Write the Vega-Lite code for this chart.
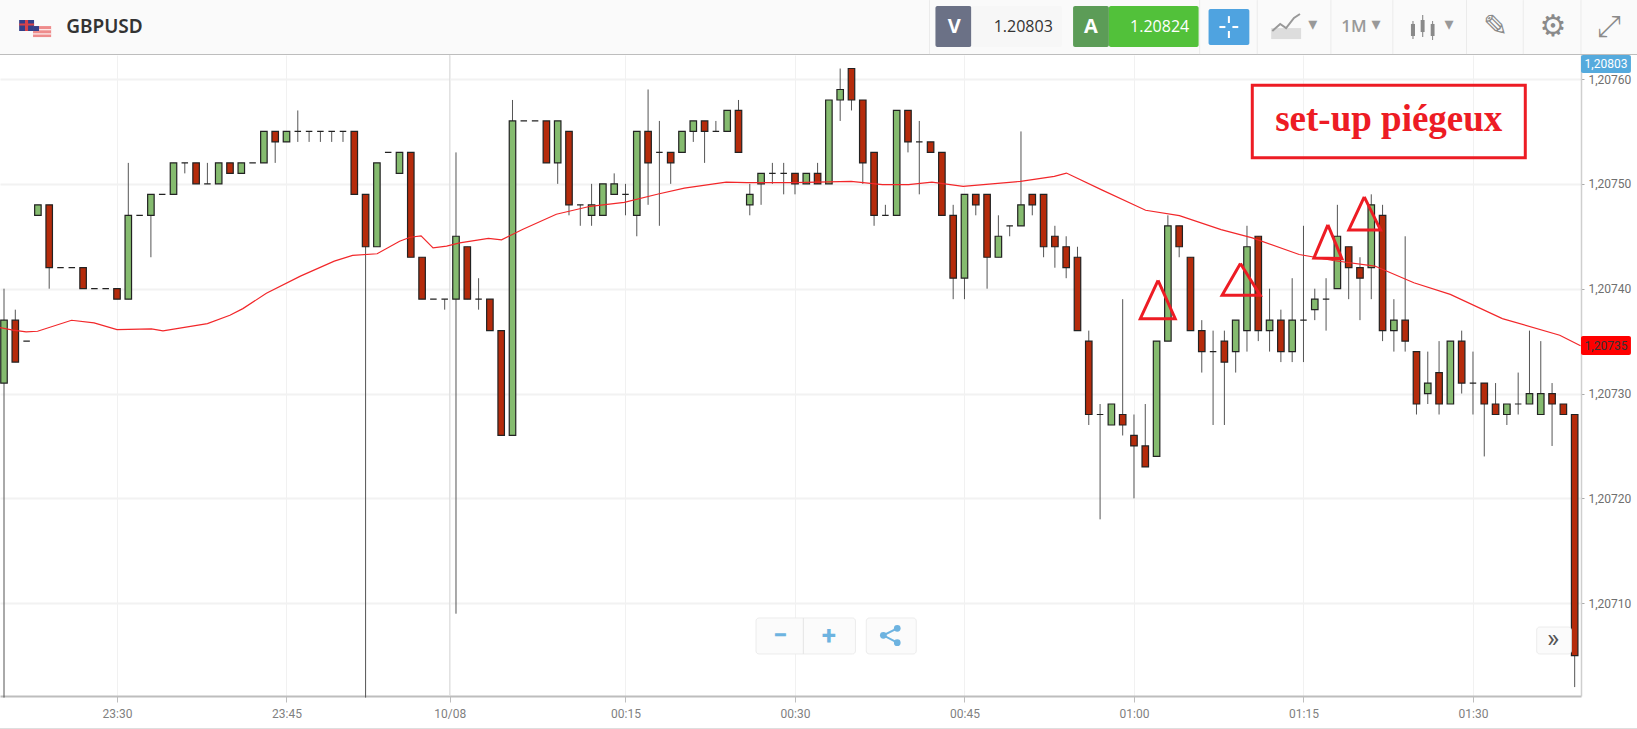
{"$schema":"https://vega.github.io/schema/vega-lite/v6.json","width":1581,"height":641,"autosize":{"type":"none"},"padding":{"left":0,"top":55,"right":56,"bottom":33},"background":"#ffffff","config":{"view":{"stroke":null}},
"datasets":{"candles":[
{"m":-10,"kind":"up","open":1.20731,"close":1.20737,"high":1.2074,"low":1.20701},
{"m":-9,"kind":"down","open":1.20737,"close":1.20733,"high":1.20738,"low":1.20733},
{"m":-8,"kind":"flat","open":1.20735,"close":1.20735,"high":1.20735,"low":1.20735},
{"m":-7,"kind":"up","open":1.20747,"close":1.20748,"high":1.20748,"low":1.20747},
{"m":-6,"kind":"down","open":1.20748,"close":1.20742,"high":1.20748,"low":1.2074},
{"m":-5,"kind":"flat","open":1.20742,"close":1.20742,"high":1.20742,"low":1.20742},
{"m":-4,"kind":"flat","open":1.20742,"close":1.20742,"high":1.20742,"low":1.20742},
{"m":-3,"kind":"down","open":1.20742,"close":1.2074,"high":1.20742,"low":1.2074},
{"m":-2,"kind":"flat","open":1.2074,"close":1.2074,"high":1.2074,"low":1.2074},
{"m":-1,"kind":"flat","open":1.2074,"close":1.2074,"high":1.2074,"low":1.2074},
{"m":0,"kind":"down","open":1.2074,"close":1.20739,"high":1.2074,"low":1.20739},
{"m":1,"kind":"up","open":1.20739,"close":1.20747,"high":1.20752,"low":1.20739},
{"m":2,"kind":"flat","open":1.20747,"close":1.20747,"high":1.20747,"low":1.20747},
{"m":3,"kind":"up","open":1.20747,"close":1.20749,"high":1.20749,"low":1.20743},
{"m":4,"kind":"flat","open":1.20749,"close":1.20749,"high":1.20749,"low":1.20749},
{"m":5,"kind":"up","open":1.20749,"close":1.20752,"high":1.20752,"low":1.20749},
{"m":6,"kind":"flat","open":1.20752,"close":1.20752,"high":1.20752,"low":1.20751},
{"m":7,"kind":"down","open":1.20752,"close":1.2075,"high":1.20752,"low":1.2075},
{"m":8,"kind":"flat","open":1.2075,"close":1.2075,"high":1.20752,"low":1.2075},
{"m":9,"kind":"up","open":1.2075,"close":1.20752,"high":1.20752,"low":1.2075},
{"m":10,"kind":"down","open":1.20752,"close":1.20751,"high":1.20752,"low":1.20751},
{"m":11,"kind":"up","open":1.20751,"close":1.20752,"high":1.20752,"low":1.20751},
{"m":12,"kind":"flat","open":1.20752,"close":1.20752,"high":1.20752,"low":1.20752},
{"m":13,"kind":"up","open":1.20752,"close":1.20755,"high":1.20755,"low":1.20752},
{"m":14,"kind":"down","open":1.20755,"close":1.20754,"high":1.20755,"low":1.20752},
{"m":15,"kind":"up","open":1.20754,"close":1.20755,"high":1.20755,"low":1.20754},
{"m":16,"kind":"flat","open":1.20755,"close":1.20755,"high":1.20757,"low":1.20754},
{"m":17,"kind":"flat","open":1.20755,"close":1.20755,"high":1.20755,"low":1.20754},
{"m":18,"kind":"flat","open":1.20755,"close":1.20755,"high":1.20755,"low":1.20754},
{"m":19,"kind":"flat","open":1.20755,"close":1.20755,"high":1.20755,"low":1.20754},
{"m":20,"kind":"flat","open":1.20755,"close":1.20755,"high":1.20755,"low":1.20754},
{"m":21,"kind":"down","open":1.20755,"close":1.20749,"high":1.20755,"low":1.20749},
{"m":22,"kind":"down","open":1.20749,"close":1.20744,"high":1.20749,"low":1.20701},
{"m":23,"kind":"up","open":1.20744,"close":1.20752,"high":1.20752,"low":1.20744},
{"m":24,"kind":"flat","open":1.20753,"close":1.20753,"high":1.20753,"low":1.20753},
{"m":25,"kind":"up","open":1.20751,"close":1.20753,"high":1.20753,"low":1.20751},
{"m":26,"kind":"down","open":1.20753,"close":1.20743,"high":1.20753,"low":1.20743},
{"m":27,"kind":"down","open":1.20743,"close":1.20739,"high":1.20743,"low":1.20739},
{"m":28,"kind":"flat","open":1.20739,"close":1.20739,"high":1.20739,"low":1.20739},
{"m":29,"kind":"flat","open":1.20739,"close":1.20739,"high":1.20739,"low":1.20738},
{"m":30,"kind":"up","open":1.20739,"close":1.20745,"high":1.20753,"low":1.20709},
{"m":31,"kind":"down","open":1.20744,"close":1.20739,"high":1.20744,"low":1.20739},
{"m":32,"kind":"flat","open":1.20739,"close":1.20739,"high":1.20741,"low":1.20738},
{"m":33,"kind":"down","open":1.20739,"close":1.20736,"high":1.20739,"low":1.20736},
{"m":34,"kind":"down","open":1.20736,"close":1.20726,"high":1.20736,"low":1.20726},
{"m":35,"kind":"up","open":1.20726,"close":1.20756,"high":1.20758,"low":1.20726},
{"m":36,"kind":"flat","open":1.20756,"close":1.20756,"high":1.20756,"low":1.20756},
{"m":37,"kind":"flat","open":1.20756,"close":1.20756,"high":1.20756,"low":1.20756},
{"m":38,"kind":"down","open":1.20756,"close":1.20752,"high":1.20756,"low":1.20752},
{"m":39,"kind":"up","open":1.20752,"close":1.20756,"high":1.20756,"low":1.2075},
{"m":40,"kind":"down","open":1.20755,"close":1.20748,"high":1.20755,"low":1.20747},
{"m":41,"kind":"flat","open":1.20748,"close":1.20748,"high":1.20748,"low":1.20746},
{"m":42,"kind":"up","open":1.20747,"close":1.20748,"high":1.2075,"low":1.20746},
{"m":43,"kind":"up","open":1.20747,"close":1.2075,"high":1.2075,"low":1.20747},
{"m":44,"kind":"up","open":1.20749,"close":1.2075,"high":1.20751,"low":1.20749},
{"m":45,"kind":"flat","open":1.20749,"close":1.20749,"high":1.2075,"low":1.20747},
{"m":46,"kind":"up","open":1.20747,"close":1.20755,"high":1.20755,"low":1.20745},
{"m":47,"kind":"down","open":1.20755,"close":1.20752,"high":1.20759,"low":1.20748},
{"m":48,"kind":"flat","open":1.20753,"close":1.20753,"high":1.20756,"low":1.20746},
{"m":49,"kind":"down","open":1.20753,"close":1.20752,"high":1.20753,"low":1.2075},
{"m":50,"kind":"up","open":1.20753,"close":1.20755,"high":1.20755,"low":1.20753},
{"m":51,"kind":"up","open":1.20755,"close":1.20756,"high":1.20756,"low":1.20754},
{"m":52,"kind":"down","open":1.20756,"close":1.20755,"high":1.20756,"low":1.20752},
{"m":53,"kind":"flat","open":1.20755,"close":1.20755,"high":1.20756,"low":1.20755},
{"m":54,"kind":"up","open":1.20755,"close":1.20757,"high":1.20757,"low":1.20755},
{"m":55,"kind":"down","open":1.20757,"close":1.20753,"high":1.20758,"low":1.20753},
{"m":56,"kind":"up","open":1.20748,"close":1.20749,"high":1.2075,"low":1.20747},
{"m":57,"kind":"up","open":1.2075,"close":1.20751,"high":1.20751,"low":1.20748},
{"m":58,"kind":"flat","open":1.20751,"close":1.20751,"high":1.20752,"low":1.2075},
{"m":59,"kind":"flat","open":1.20751,"close":1.20751,"high":1.20752,"low":1.20749},
{"m":60,"kind":"down","open":1.20751,"close":1.2075,"high":1.20751,"low":1.20749},
{"m":61,"kind":"up","open":1.2075,"close":1.20751,"high":1.20751,"low":1.2075},
{"m":62,"kind":"down","open":1.20751,"close":1.2075,"high":1.20752,"low":1.2075},
{"m":63,"kind":"up","open":1.2075,"close":1.20758,"high":1.20758,"low":1.2075},
{"m":64,"kind":"up","open":1.20758,"close":1.20759,"high":1.20761,"low":1.20756},
{"m":65,"kind":"down","open":1.20761,"close":1.20758,"high":1.20761,"low":1.20757},
{"m":66,"kind":"down","open":1.20758,"close":1.20752,"high":1.20758,"low":1.2075},
{"m":67,"kind":"down","open":1.20753,"close":1.20747,"high":1.20753,"low":1.20746},
{"m":68,"kind":"flat","open":1.20747,"close":1.20747,"high":1.20748,"low":1.20747},
{"m":69,"kind":"up","open":1.20747,"close":1.20757,"high":1.20757,"low":1.20747},
{"m":70,"kind":"down","open":1.20757,"close":1.20754,"high":1.20757,"low":1.20753},
{"m":71,"kind":"flat","open":1.20754,"close":1.20754,"high":1.20756,"low":1.20749},
{"m":72,"kind":"down","open":1.20754,"close":1.20753,"high":1.20754,"low":1.20753},
{"m":73,"kind":"down","open":1.20753,"close":1.20747,"high":1.20753,"low":1.20747},
{"m":74,"kind":"down","open":1.20747,"close":1.20741,"high":1.20748,"low":1.20739},
{"m":75,"kind":"up","open":1.20741,"close":1.20749,"high":1.20749,"low":1.20739},
{"m":76,"kind":"down","open":1.20749,"close":1.20748,"high":1.20749,"low":1.20747},
{"m":77,"kind":"down","open":1.20749,"close":1.20743,"high":1.20749,"low":1.2074},
{"m":78,"kind":"up","open":1.20743,"close":1.20745,"high":1.20747,"low":1.20743},
{"m":79,"kind":"flat","open":1.20746,"close":1.20746,"high":1.20746,"low":1.20745},
{"m":80,"kind":"up","open":1.20746,"close":1.20748,"high":1.20755,"low":1.20746},
{"m":81,"kind":"down","open":1.20749,"close":1.20748,"high":1.20749,"low":1.20747},
{"m":82,"kind":"down","open":1.20749,"close":1.20744,"high":1.20749,"low":1.20743},
{"m":83,"kind":"down","open":1.20745,"close":1.20744,"high":1.20746,"low":1.20742},
{"m":84,"kind":"down","open":1.20744,"close":1.20742,"high":1.20745,"low":1.20741},
{"m":85,"kind":"down","open":1.20743,"close":1.20736,"high":1.20744,"low":1.20736},
{"m":86,"kind":"down","open":1.20735,"close":1.20728,"high":1.20736,"low":1.20727},
{"m":87,"kind":"flat","open":1.20728,"close":1.20728,"high":1.20729,"low":1.20718},
{"m":88,"kind":"up","open":1.20727,"close":1.20729,"high":1.20729,"low":1.20727},
{"m":89,"kind":"down","open":1.20728,"close":1.20727,"high":1.20739,"low":1.20726},
{"m":90,"kind":"down","open":1.20726,"close":1.20725,"high":1.20728,"low":1.2072},
{"m":91,"kind":"down","open":1.20725,"close":1.20723,"high":1.20729,"low":1.20723},
{"m":92,"kind":"up","open":1.20724,"close":1.20735,"high":1.20735,"low":1.20724},
{"m":93,"kind":"up","open":1.20735,"close":1.20746,"high":1.20747,"low":1.20735},
{"m":94,"kind":"down","open":1.20746,"close":1.20744,"high":1.20746,"low":1.20743},
{"m":95,"kind":"down","open":1.20743,"close":1.20736,"high":1.20743,"low":1.20736},
{"m":96,"kind":"down","open":1.20736,"close":1.20734,"high":1.20737,"low":1.20732},
{"m":97,"kind":"flat","open":1.20734,"close":1.20734,"high":1.20736,"low":1.20727},
{"m":98,"kind":"down","open":1.20735,"close":1.20733,"high":1.20736,"low":1.20727},
{"m":99,"kind":"up","open":1.20734,"close":1.20737,"high":1.20737,"low":1.20732},
{"m":100,"kind":"up","open":1.20736,"close":1.20744,"high":1.20746,"low":1.20734},
{"m":101,"kind":"down","open":1.20745,"close":1.20736,"high":1.20745,"low":1.20735},
{"m":102,"kind":"up","open":1.20736,"close":1.20737,"high":1.2074,"low":1.20734},
{"m":103,"kind":"down","open":1.20737,"close":1.20734,"high":1.20738,"low":1.20733},
{"m":104,"kind":"up","open":1.20734,"close":1.20737,"high":1.20741,"low":1.20733},
{"m":105,"kind":"flat","open":1.20737,"close":1.20737,"high":1.20746,"low":1.20733},
{"m":106,"kind":"up","open":1.20738,"close":1.20739,"high":1.2074,"low":1.20737},
{"m":107,"kind":"flat","open":1.20739,"close":1.20739,"high":1.20741,"low":1.20736},
{"m":108,"kind":"up","open":1.2074,"close":1.20745,"high":1.20748,"low":1.2074},
{"m":109,"kind":"down","open":1.20744,"close":1.20742,"high":1.20744,"low":1.20739},
{"m":110,"kind":"down","open":1.20742,"close":1.20741,"high":1.20743,"low":1.20737},
{"m":111,"kind":"up","open":1.20742,"close":1.20748,"high":1.20749,"low":1.20739},
{"m":112,"kind":"down","open":1.20747,"close":1.20736,"high":1.20748,"low":1.20735},
{"m":113,"kind":"up","open":1.20736,"close":1.20737,"high":1.20739,"low":1.20734},
{"m":114,"kind":"down","open":1.20737,"close":1.20735,"high":1.20745,"low":1.20734},
{"m":115,"kind":"down","open":1.20734,"close":1.20729,"high":1.20734,"low":1.20728},
{"m":116,"kind":"up","open":1.2073,"close":1.20731,"high":1.20734,"low":1.20729},
{"m":117,"kind":"down","open":1.20732,"close":1.20729,"high":1.20735,"low":1.20728},
{"m":118,"kind":"up","open":1.20729,"close":1.20735,"high":1.20735,"low":1.20729},
{"m":119,"kind":"down","open":1.20735,"close":1.20731,"high":1.20736,"low":1.2073},
{"m":120,"kind":"flat","open":1.20731,"close":1.20731,"high":1.20734,"low":1.20728},
{"m":121,"kind":"down","open":1.20731,"close":1.20729,"high":1.20731,"low":1.20724},
{"m":122,"kind":"down","open":1.20729,"close":1.20728,"high":1.20731,"low":1.20728},
{"m":123,"kind":"up","open":1.20728,"close":1.20729,"high":1.20729,"low":1.20727},
{"m":124,"kind":"flat","open":1.20729,"close":1.20729,"high":1.20732,"low":1.20728},
{"m":125,"kind":"up","open":1.20729,"close":1.2073,"high":1.20736,"low":1.20729},
{"m":126,"kind":"up","open":1.20728,"close":1.2073,"high":1.20735,"low":1.20728},
{"m":127,"kind":"down","open":1.2073,"close":1.20729,"high":1.20731,"low":1.20725},
{"m":128,"kind":"down","open":1.20729,"close":1.20728,"high":1.20729,"low":1.20728},
{"m":129,"kind":"down","open":1.20728,"close":1.20705,"high":1.20728,"low":1.20702}
]},
"encoding":{
"x":{"field":"m","type":"quantitative","scale":{"domain":[-10.354,129.56],"nice":false,"zero":false,"padding":0},"axis":{"title":null,"orient":"bottom","values":[0,15,29.44,45,60,75,90,105,120],"labelExpr":"datum.value==0?'23:30':datum.value==15?'23:45':datum.value==29.44?'10/08':datum.value==45?'00:15':datum.value==60?'00:30':datum.value==75?'00:45':datum.value==90?'01:00':datum.value==105?'01:15':'01:30'","grid":true,"gridColor":"#f1f1f1","gridWidth":1,"domainColor":"#bdbdbd","domainWidth":2,"tickColor":"#bdbdbd","tickSize":6,"labelColor":"#7f7f7f","labelFont":"Roboto","labelFontSize":12,"labelPadding":6}},
"y":{"field":"p","type":"quantitative","scale":{"domain":[1.2070115,1.2076229],"nice":false,"zero":false,"padding":0},"axis":{"title":null,"orient":"right","values":[1.2071,1.2072,1.2073,1.2074,1.2075,1.2076],"labelExpr":"replace(format(datum.value,'.5f'),'.',',')","grid":true,"gridColor":"#f2f2f2","gridWidth":2,"domainColor":"#cfcfcf","domainWidth":1.5,"tickColor":"#aaaaaa","tickSize":3,"labelColor":"#6f6f6f","labelFont":"Roboto","labelFontSize":12,"labelPadding":4}},
"color":{"field":"kind","type":"nominal","legend":null,"scale":{"domain":["up","down","flat","toolbar","headerline","bottomline","sep","midnight","chipV","cell","chipA","ask","blue","white","bluetag","redtag","button","divider","icon","iconlight","ukblue","ukred","usred","annot","ma","ink","muted","zoomblue","chevron"],"range":["#85bb6f","#b52b0b","#333333","#fafafa","#bdbdbd","#dedede","#ebebeb","#dddddd","#6b7186","#f7f7f7","#5c9c57","#52c13a","#4fa3e0","#ffffff","#55aadd","#ff0000","#fbfbfb","#e4e4e4","#8a8a8a","#dddddd","#34408a","#d8434a","#ee8c8c","#ed1c24","#f2272a","#333333","#999999","#6db3e0","#555555"]}}
},
"layer":[
{"data":{"values":[
{"kind":"toolbar","m":-10.354,"m2":134.6,"p":1.2076753,"p2":1.2076238},
{"kind":"headerline","m":-10.354,"m2":134.6,"p":1.2076238,"p2":1.2076229},
{"kind":"bottomline","m":-10.354,"m2":134.6,"p":1.2069810,"p2":1.2069800},
{"kind":"ukblue","m":-8.66,"m2":-7.34,"p":1.2076563,"p2":1.2076458},
{"kind":"ukred","m":-8.14,"m2":-7.87,"p":1.2076563,"p2":1.2076458},
{"kind":"ukred","m":-8.66,"m2":-7.34,"p":1.2076530,"p2":1.2076510},
{"kind":"usred","m":-7.43,"m2":-5.83,"p":1.2076505,"p2":1.20764},
{"kind":"white","m":-6.9,"m2":-5.83,"p":1.2076475,"p2":1.2076465},
{"kind":"white","m":-7.43,"m2":-5.83,"p":1.2076435,"p2":1.2076425},
{"kind":"ukblue","m":-7.43,"m2":-6.9,"p":1.2076505,"p2":1.2076458},
{"kind":"iconlight","m":102.14,"m2":104.79,"p":1.2076486,"p2":1.2076381},
{"kind":"icon","m":114.51,"m2":114.87,"p":1.2076525,"p2":1.207641},
{"kind":"icon","m":115.37,"m2":115.72,"p":1.2076563,"p2":1.2076448},
{"kind":"icon","m":116.26,"m2":116.6,"p":1.2076525,"p2":1.207641},
{"kind":"icon","m":114.64,"m2":114.74,"p":1.2076553,"p2":1.2076381},
{"kind":"icon","m":115.5,"m2":115.6,"p":1.207661,"p2":1.20764},
{"kind":"icon","m":116.38,"m2":116.47,"p":1.2076553,"p2":1.2076371}
]},"mark":{"type":"rect"},"encoding":{"x2":{"field":"m2"},"y2":{"field":"p2"}}},
{"data":{"values":[
{"kind":"sep","m":71.9,"p":1.2076753,"p2":1.2076238},
{"kind":"sep","m":95.81,"p":1.2076753,"p2":1.2076238},
{"kind":"sep","m":100.91,"p":1.2076753,"p2":1.2076238},
{"kind":"sep","m":107.43,"p":1.2076753,"p2":1.2076238},
{"kind":"sep","m":112.91,"p":1.2076753,"p2":1.2076238},
{"kind":"sep","m":119.43,"p":1.2076753,"p2":1.2076238},
{"kind":"sep","m":124.45,"p":1.2076753,"p2":1.2076238},
{"kind":"sep","m":129.56,"p":1.2076753,"p2":1.2076238},
{"kind":"midnight","m":29.44,"p":1.2076229,"p2":1.2070115}
]},"mark":{"type":"rule","strokeWidth":1},"encoding":{"y2":{"field":"p2"}}},
{"data":{"values":[
{"kind":"chipV","m":72.43,"m2":75.61,"p":1.2076696,"p2":1.2076305},
{"kind":"cell","m":75.61,"m2":83.63,"p":1.2076696,"p2":1.2076305},
{"kind":"chipA","m":84.61,"m2":87.78,"p":1.2076696,"p2":1.2076305},
{"kind":"ask","m":87.78,"m2":95.72,"p":1.2076696,"p2":1.2076305},
{"kind":"blue","m":96.6,"m2":100.21,"p":1.2076668,"p2":1.2076324},
{"kind":"bluetag","m":129.56,"m2":133.98,"p":1.2076229,"p2":1.2076057},
{"kind":"redtag","m":129.56,"m2":133.98,"p":1.2073549,"p2":1.2073368}
]},"mark":{"type":"rect","cornerRadius":2},"encoding":{"x2":{"field":"m2"},"y2":{"field":"p2"}}},
{"data":{"values":[
{"kind":"white","m":97.56,"m2":98.09,"p":1.2076506,"p2":1.2076486},
{"kind":"white","m":98.71,"m2":99.23,"p":1.2076506,"p2":1.2076486},
{"kind":"white","m":98.31,"m2":98.49,"p":1.20766,"p2":1.2076534},
{"kind":"white","m":98.31,"m2":98.49,"p":1.2076458,"p2":1.2076391}
]},"mark":{"type":"rect"},"encoding":{"x2":{"field":"m2"},"y2":{"field":"p2"}}},
{"data":{"name":"candles"},"mark":{"type":"rule","strokeWidth":1,"color":"#555555"},"encoding":{"color":{"value":"#555555"},"y":{"field":"low","type":"quantitative","scale":{"domain":[1.2070115,1.2076229],"nice":false,"zero":false,"padding":0},"axis":{"title":null,"orient":"right","values":[1.2071,1.2072,1.2073,1.2074,1.2075,1.2076],"labelExpr":"replace(format(datum.value,'.5f'),'.',',')","grid":true,"gridColor":"#f2f2f2","gridWidth":2,"domainColor":"#cfcfcf","domainWidth":1.5,"tickColor":"#aaaaaa","tickSize":3,"labelColor":"#6f6f6f","labelFont":"Roboto","labelFontSize":12,"labelPadding":4}},"y2":{"field":"high"}}},
{"data":{"name":"candles"},"mark":{"type":"bar","size":6.5,"stroke":"#222222","strokeWidth":1.2},"encoding":{"y":{"field":"open","type":"quantitative","scale":{"domain":[1.2070115,1.2076229],"nice":false,"zero":false,"padding":0},"axis":{"title":null,"orient":"right","values":[1.2071,1.2072,1.2073,1.2074,1.2075,1.2076],"labelExpr":"replace(format(datum.value,'.5f'),'.',',')","grid":true,"gridColor":"#f2f2f2","gridWidth":2,"domainColor":"#cfcfcf","domainWidth":1.5,"tickColor":"#aaaaaa","tickSize":3,"labelColor":"#6f6f6f","labelFont":"Roboto","labelFontSize":12,"labelPadding":4}},"y2":{"field":"close"}}},
{"data":{"values":[
{"kind":"ma","m":-10.354,"p":1.2073629},{"kind":"ma","m":-9.2,"p":1.2073604},{"kind":"ma","m":-8.04,"p":1.2073588},{"kind":"ma","m":-7.03,"p":1.2073594},{"kind":"ma","m":-4.02,"p":1.2073699},{"kind":"ma","m":-2.03,"p":1.2073674},{"kind":"ma","m":0,"p":1.207361},{"kind":"ma","m":3.05,"p":1.2073616},{"kind":"ma","m":4.07,"p":1.2073597},{"kind":"ma","m":5.83,"p":1.2073629},{"kind":"ma","m":8,"p":1.2073667},{"kind":"ma","m":9.99,"p":1.2073746},{"kind":"ma","m":11.14,"p":1.207381},{"kind":"ma","m":13.22,"p":1.2073956},{"kind":"ma","m":16.23,"p":1.207412},{"kind":"ma","m":19.23,"p":1.2074263},{"kind":"ma","m":20.85,"p":1.2074317},{"kind":"ma","m":23.02,"p":1.2074333},{"kind":"ma","m":25.01,"p":1.2074453},{"kind":"ma","m":25.94,"p":1.2074491},{"kind":"ma","m":26.91,"p":1.2074504},{"kind":"ma","m":27.97,"p":1.207439},{"kind":"ma","m":29.17,"p":1.2074406},{"kind":"ma","m":30.33,"p":1.2074437},{"kind":"ma","m":32.87,"p":1.2074479},{"kind":"ma","m":34.03,"p":1.2074466},{"kind":"ma","m":35.88,"p":1.2074564},{"kind":"ma","m":38.88,"p":1.207471},{"kind":"ma","m":41.89,"p":1.2074786},{"kind":"ma","m":44.89,"p":1.2074824},{"kind":"ma","m":47.9,"p":1.2074903},{"kind":"ma","m":50.21,"p":1.207496},{"kind":"ma","m":53.91,"p":1.2075017},{"kind":"ma","m":55.76,"p":1.2075011},{"kind":"ma","m":59.92,"p":1.2075011},{"kind":"ma","m":64.97,"p":1.2075024},{"kind":"ma","m":67.74,"p":1.2074992},{"kind":"ma","m":70.05,"p":1.2074992},{"kind":"ma","m":72.12,"p":1.2075017},{"kind":"ma","m":74.88,"p":1.2074976},{"kind":"ma","m":79.96,"p":1.2075024},{"kind":"ma","m":82.95,"p":1.2075071},{"kind":"ma","m":84.02,"p":1.2075103},{"kind":"ma","m":87.1,"p":1.2074945},{"kind":"ma","m":91.03,"p":1.2074748},{"kind":"ma","m":94.02,"p":1.2074697},{"kind":"ma","m":97.71,"p":1.2074564},{"kind":"ma","m":100.47,"p":1.2074485},{"kind":"ma","m":104.62,"p":1.2074326},{"kind":"ma","m":107.62,"p":1.2074269},{"kind":"ma","m":111.31,"p":1.2074216},{"kind":"ma","m":114.77,"p":1.2074057},{"kind":"ma","m":117.99,"p":1.2073946},{"kind":"ma","m":122.6,"p":1.2073715},{"kind":"ma","m":127.68,"p":1.2073556},{"kind":"ma","m":129.52,"p":1.2073455}
]},"mark":{"type":"line","strokeWidth":1.2,"interpolate":"linear"}},
{"data":{"values":[
{"kind":"annot","g":"t1","i":0,"m":92.13,"p":1.2074079},{"kind":"annot","g":"t1","i":1,"m":90.56,"p":1.2073714},{"kind":"annot","g":"t1","i":2,"m":93.65,"p":1.2073714},{"kind":"annot","g":"t1","i":3,"m":92.13,"p":1.2074079},
{"kind":"annot","g":"t2","i":0,"m":99.42,"p":1.207424},{"kind":"annot","g":"t2","i":1,"m":97.8,"p":1.2073937},{"kind":"annot","g":"t2","i":2,"m":101.17,"p":1.2073937},{"kind":"annot","g":"t2","i":3,"m":99.42,"p":1.207424},
{"kind":"annot","g":"t3","i":0,"m":107.16,"p":1.2074609},{"kind":"annot","g":"t3","i":1,"m":105.92,"p":1.2074292},{"kind":"annot","g":"t3","i":2,"m":108.4,"p":1.2074287},{"kind":"annot","g":"t3","i":3,"m":107.16,"p":1.2074609},
{"kind":"annot","g":"t4","i":0,"m":110.38,"p":1.2074875},{"kind":"annot","g":"t4","i":1,"m":109.01,"p":1.2074561},{"kind":"annot","g":"t4","i":2,"m":111.82,"p":1.2074561},{"kind":"annot","g":"t4","i":3,"m":110.38,"p":1.2074875}
]},"mark":{"type":"line","strokeWidth":3,"strokeJoin":"miter"},"encoding":{"detail":{"field":"g"},"order":{"field":"i","type":"quantitative"}}},
{"data":{"values":[{"kind":"annot","m":100.47,"m2":124.63,"p":1.207594,"p2":1.207525}]},"mark":{"type":"rect","filled":false,"strokeWidth":3},"encoding":{"x2":{"field":"m2"},"y2":{"field":"p2"}}},
{"data":{"values":[{"kind":"annot","m":112.55,"p":1.207561,"label":"set-up piégeux"}]},"mark":{"type":"text","font":"Liberation Serif","fontWeight":"bold","fontSize":37,"baseline":"middle"},"encoding":{"text":{"field":"label"}}},
{"data":{"values":[
{"kind":"button","m":56.55,"m2":65.35,"p":1.2070859,"p2":1.2070516},
{"kind":"button","m":66.31,"m2":70.73,"p":1.2070859,"p2":1.2070516},
{"kind":"button","m":125.64,"m2":128.7,"p":1.2070773,"p2":1.2070516}
]},"mark":{"type":"rect","cornerRadius":3,"stroke":"#ececec","strokeWidth":1},"encoding":{"x2":{"field":"m2"},"y2":{"field":"p2"}}},
{"data":{"values":[{"kind":"divider","m":60.74,"p":1.2070859,"p2":1.2070516}]},"mark":{"type":"rule","strokeWidth":1},"encoding":{"y2":{"field":"p2"}}},
{"data":{"values":[
{"kind":"zoomblue","g":"share","i":0,"m":69.05,"p":1.2070761},{"kind":"zoomblue","g":"share","i":1,"m":67.82,"p":1.2070694},{"kind":"zoomblue","g":"share","i":2,"m":69.05,"p":1.2070624}
]},"layer":[{"mark":{"type":"line","strokeWidth":2},"encoding":{"order":{"field":"i","type":"quantitative"}}},{"mark":{"type":"point","filled":true,"size":45,"opacity":1}}]},
{"data":{"values":[
{"kind":"muted","g":"chart","i":0,"m":102.24,"p":1.2076458},{"kind":"muted","g":"chart","i":1,"m":102.94,"p":1.2076525},{"kind":"muted","g":"chart","i":2,"m":103.46,"p":1.2076486},{"kind":"muted","g":"chart","i":3,"m":104.16,"p":1.2076582},{"kind":"muted","g":"chart","i":4,"m":104.69,"p":1.207662}
]},"mark":{"type":"line","strokeWidth":2},"encoding":{"order":{"field":"i","type":"quantitative"}}},
{"data":{"values":[{"kind":"ink","m":-4.5,"p":1.2076496,"label":"GBPUSD"}]},"mark":{"type":"text","font":"Noto Sans","fontWeight":600,"fontSize":19,"align":"left","baseline":"middle"},"encoding":{"text":{"field":"label"}}},
{"data":{"values":[
{"kind":"ink","m":80.2,"p":1.2076496,"label":"1.20803"},
{"kind":"white","m":92.27,"p":1.2076496,"label":"1.20824"}
]},"mark":{"type":"text","font":"Open Sans","fontSize":16,"baseline":"middle"},"encoding":{"text":{"field":"label"}}},
{"data":{"values":[
{"kind":"white","m":74.1,"p":1.2076496,"label":"V"},
{"kind":"white","m":86.18,"p":1.2076496,"label":"A"}
]},"mark":{"type":"text","font":"Open Sans","fontWeight":"bold","fontSize":20,"baseline":"middle"},"encoding":{"text":{"field":"label"}}},
{"data":{"values":[{"kind":"muted","m":109.47,"p":1.2076496,"label":"1M"}]},"mark":{"type":"text","font":"Open Sans","fontWeight":600,"fontSize":17,"baseline":"middle"},"encoding":{"text":{"field":"label"}}},
{"data":{"values":[
{"kind":"muted","m":105.83,"p":1.2076515,"label":"▾"},
{"kind":"muted","m":111.41,"p":1.2076515,"label":"▾"},
{"kind":"muted","m":117.89,"p":1.2076515,"label":"▾"}
]},"mark":{"type":"text","font":"DejaVu Sans","fontSize":18,"baseline":"middle"},"encoding":{"text":{"field":"label"}}},
{"data":{"values":[
{"kind":"icon","m":122,"p":1.2076496,"label":"✎"},
{"kind":"icon","m":127.08,"p":1.2076496,"label":"⚙"},
{"kind":"icon","m":132.07,"p":1.2076496,"label":"⤢"}
]},"mark":{"type":"text","font":"DejaVu Sans","fontSize":30,"baseline":"middle"},"encoding":{"text":{"field":"label"}}},
{"data":{"values":[
{"kind":"zoomblue","m":58.7,"p":1.207069,"label":"−"},
{"kind":"zoomblue","m":63,"p":1.207069,"label":"+"}
]},"mark":{"type":"text","font":"Roboto","fontWeight":"bold","fontSize":26,"baseline":"middle"},"encoding":{"text":{"field":"label"}}},
{"data":{"values":[{"kind":"chevron","m":127.08,"p":1.2070655,"label":"»"}]},"mark":{"type":"text","font":"Roboto","fontSize":26,"baseline":"middle"},"encoding":{"text":{"field":"label"}}},
{"data":{"values":[
{"kind":"white","m":131.77,"p":1.2076143,"label":"1,20803"},
{"kind":"ink","m":131.77,"p":1.2073458,"label":"1,20735"}
]},"mark":{"type":"text","font":"Roboto","fontSize":12,"baseline":"middle"},"encoding":{"text":{"field":"label"}}}
]}
